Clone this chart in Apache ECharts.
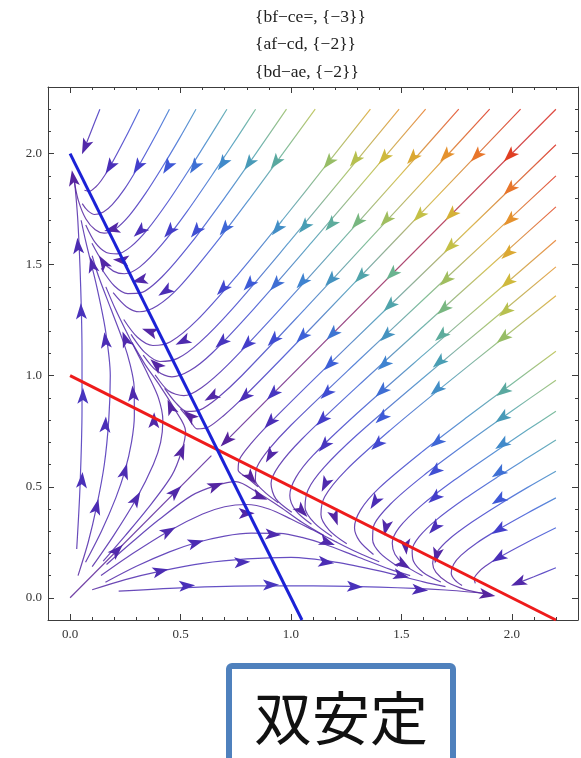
<!DOCTYPE html>
<html>
<head>
<meta charset="utf-8">
<script src="https://cdn.jsdelivr.net/npm/echarts/dist/echarts.min.js"></script>
<style>
  html, body { margin: 0; padding: 0; background: #fff; }
  #main { width: 581px; height: 758px; }
</style>
</head>
<body>
<div id="main"></div>
<script>
const titleLines = ['{bf\u2212ce=, {\u22123}}', '{af\u2212cd, {\u22122}}', '{bd\u2212ae, {\u22122}}'];
const stampText = '双安定';
const tickLabels = ['0.0', '0.5', '1.0', '1.5', '2.0'];
const axisRange = [-0.1, 2.3];

// nullclines
const nullclineRed = [[0, 1], [2.2, -0.1]];
const nullclineBlue = [[0, 2], [1.05, -0.1]];

// competition model behind the picture (from the nullcline intercepts),
// only used to colour by speed and to turn the arrowheads
const growth = [2, 2];
const compete = [[1, 2], [2, 1]];

// streamlines entering from the top edge
const topStreams = [
  [[0.135,2.2],[0.095,2.1],[0.06,2.01]],
  [[0.315,2.2],[0.25,2.07],[0.18,1.94],[0.142,1.88],[0.116,1.85],[0.086,1.83],[0.065,1.835]],
  [[0.45,2.2],[0.381,2.07],[0.308,1.94],[0.246,1.84],[0.191,1.77],[0.151,1.737],[0.111,1.726],[0.081,1.742],[0.055,1.775]],
  [[0.57,2.2],[0.496,2.07],[0.418,1.94],[0.341,1.82],[0.267,1.72],[0.204,1.66],[0.154,1.642],[0.114,1.657],[0.071,1.707],[0.038,1.787],[0.018,1.88]],
  [[0.71,2.2],[0.629,2.07],[0.547,1.94],[0.448,1.79],[0.352,1.66],[0.274,1.58],[0.214,1.549],[0.164,1.555],[0.114,1.599],[0.071,1.679]],
  [[0.84,2.2],[0.755,2.07],[0.668,1.94],[0.53,1.74],[0.415,1.59],[0.316,1.49],[0.246,1.459],[0.196,1.471],[0.146,1.516],[0.099,1.596]],
  [[0.98,2.2],[0.841,2.0],[0.699,1.8],[0.55,1.6],[0.421,1.45],[0.321,1.374],[0.261,1.37],[0.201,1.404],[0.141,1.484]],
  [[1.11,2.2],[0.963,2.0],[0.815,1.8],[0.662,1.6],[0.495,1.4],[0.395,1.315],[0.315,1.288],[0.255,1.311],[0.195,1.374]],
  [[1.36,2.2],[1.161,1.95],[0.961,1.7],[0.755,1.45],[0.575,1.25],[0.455,1.153],[0.375,1.136],[0.305,1.173],[0.243,1.253]],
  [[1.49,2.2],[1.241,1.9],[0.991,1.6],[0.734,1.3],[0.587,1.15],[0.487,1.078],[0.407,1.064],[0.337,1.106],[0.276,1.186]],
  [[1.61,2.2],[1.352,1.9],[1.094,1.6],[0.831,1.3],[0.641,1.1],[0.541,1.022],[0.461,0.995],[0.391,1.023],[0.331,1.093]],
  [[1.76,2.2],[1.492,1.9],[1.223,1.6],[0.951,1.3],[0.715,1.05],[0.595,0.946],[0.515,0.91],[0.445,0.932],[0.385,1.004]],
  [[1.9,2.2],[1.622,1.9],[1.343,1.6],[1.063,1.3],[0.777,1.0],[0.668,0.9],[0.588,0.846],[0.528,0.839],[0.478,0.879],[0.428,0.943]],
  [[2.04,2.2],[1.655,1.8],[1.27,1.4],[0.98,1.1],[0.782,0.9],[0.695,0.82],[0.625,0.768],[0.575,0.761],[0.54,0.803],[0.5,0.851]]
];

// streamlines entering from the right edge
const rightStreams = [
  [[2.2,0.135],[2.1,0.095],[2.01,0.06]],
  [[2.2,0.315],[2.07,0.25],[1.94,0.18],[1.88,0.142],[1.85,0.116],[1.83,0.086],[1.835,0.065]],
  [[2.2,0.45],[2.07,0.381],[1.94,0.308],[1.84,0.246],[1.77,0.191],[1.737,0.151],[1.726,0.111],[1.742,0.081],[1.775,0.055]],
  [[2.2,0.57],[2.07,0.496],[1.94,0.418],[1.82,0.341],[1.72,0.267],[1.66,0.204],[1.642,0.154],[1.657,0.114],[1.707,0.071],[1.787,0.038],[1.88,0.018]],
  [[2.2,0.71],[2.07,0.629],[1.94,0.547],[1.79,0.448],[1.66,0.352],[1.58,0.274],[1.549,0.214],[1.555,0.164],[1.599,0.114],[1.679,0.071]],
  [[2.2,0.84],[2.07,0.755],[1.94,0.668],[1.74,0.53],[1.59,0.415],[1.49,0.316],[1.459,0.246],[1.471,0.196],[1.516,0.146],[1.596,0.099]],
  [[2.2,0.98],[2.0,0.841],[1.8,0.699],[1.6,0.55],[1.45,0.421],[1.374,0.321],[1.37,0.261],[1.404,0.201],[1.484,0.141]],
  [[2.2,1.11],[2.0,0.963],[1.8,0.815],[1.6,0.662],[1.4,0.495],[1.315,0.395],[1.288,0.315],[1.311,0.255],[1.374,0.195]],
  [[2.2,1.36],[1.95,1.161],[1.7,0.961],[1.45,0.755],[1.25,0.575],[1.153,0.455],[1.136,0.375],[1.173,0.305],[1.253,0.243]],
  [[2.2,1.49],[1.9,1.241],[1.6,0.991],[1.3,0.734],[1.15,0.587],[1.078,0.487],[1.064,0.407],[1.106,0.337],[1.186,0.276]],
  [[2.2,1.61],[1.9,1.352],[1.6,1.094],[1.3,0.831],[1.1,0.641],[1.022,0.541],[0.995,0.461],[1.023,0.391],[1.093,0.331]],
  [[2.2,1.76],[1.9,1.492],[1.6,1.223],[1.3,0.951],[1.05,0.715],[0.946,0.595],[0.91,0.515],[0.932,0.445],[1.004,0.385]],
  [[2.2,1.9],[1.9,1.622],[1.6,1.343],[1.3,1.063],[1.0,0.777],[0.9,0.668],[0.846,0.588],[0.839,0.528],[0.879,0.478],[0.943,0.428]],
  [[2.2,2.04],[1.8,1.655],[1.4,1.27],[1.1,0.98],[0.9,0.782],[0.82,0.695],[0.768,0.625],[0.761,0.575],[0.803,0.54],[0.851,0.5]]
];

// streamlines leaving the origin and bending up towards (0, 2)
const originStreamsUp = [
  [[0.03,0.22],[0.045,0.5],[0.054,0.85],[0.054,1.1],[0.048,1.4],[0.035,1.7],[0.02,1.88]],
  [[0.036,0.1],[0.082,0.25],[0.12,0.41],[0.155,0.6],[0.175,0.8],[0.182,1.0],[0.161,1.2],[0.121,1.4],[0.072,1.6],[0.05,1.7]],
  [[0.07,0.16],[0.142,0.3],[0.207,0.45],[0.248,0.57],[0.278,0.7],[0.291,0.82],[0.29,0.95],[0.272,1.05],[0.242,1.15],[0.185,1.3],[0.128,1.45],[0.1,1.54]],
  [[0.1,0.14],[0.197,0.28],[0.3,0.446],[0.377,0.6],[0.41,0.7],[0.42,0.8],[0.4,0.9],[0.355,1.0],[0.305,1.1],[0.254,1.2],[0.205,1.3],[0.162,1.4]],
  [[0.15,0.165],[0.25,0.28],[0.35,0.4],[0.46,0.55],[0.505,0.66],[0.523,0.75],[0.473,0.85],[0.41,0.95],[0.34,1.05],[0.28,1.15]]
];

// streamlines leaving the origin and bending right towards (2, 0)
const originStreamsRight = [
  [[0.22,0.03],[0.5,0.045],[0.85,0.054],[1.1,0.054],[1.4,0.048],[1.7,0.035],[1.88,0.02]],
  [[0.1,0.036],[0.25,0.082],[0.41,0.12],[0.6,0.155],[0.8,0.175],[1.0,0.182],[1.2,0.161],[1.4,0.121],[1.6,0.072],[1.7,0.05]],
  [[0.16,0.07],[0.3,0.142],[0.45,0.207],[0.57,0.248],[0.7,0.278],[0.82,0.291],[0.95,0.29],[1.05,0.272],[1.15,0.242],[1.3,0.185],[1.45,0.128],[1.54,0.1]],
  [[0.14,0.1],[0.28,0.197],[0.446,0.3],[0.6,0.377],[0.7,0.41],[0.8,0.42],[0.9,0.4],[1.0,0.355],[1.1,0.305],[1.2,0.254],[1.3,0.205],[1.4,0.162]],
  [[0.165,0.15],[0.28,0.25],[0.4,0.35],[0.55,0.46],[0.66,0.505],[0.75,0.523],[0.85,0.473],[0.95,0.41],[1.05,0.34],[1.15,0.28]]
];

// the diagonal into the saddle
const diagonalStreams = [
  [[0,0],[0.64,0.64]],
  [[2.2,2.2],[0.69,0.69]]
];

// arrowhead positions
const arrowsUpper = [
  [0.068,2.03],[0.18,1.94],[0.306,1.94],[0.441,1.94],[0.563,1.94],[0.69,1.955],[0.81,1.955],[0.93,1.96],[1.17,1.96],[1.29,1.97],[1.42,1.98],[1.55,1.98],[1.70,1.99],[1.84,1.99],
  [0.19,1.66],[0.315,1.65],[0.45,1.65],[0.57,1.65],[0.70,1.66],[0.937,1.66],[1.06,1.67],[1.18,1.68],[1.30,1.69],[1.43,1.70],[1.58,1.72],
  [0.23,1.52],[0.315,1.43],[0.43,1.38],[0.69,1.39],[0.81,1.41],[0.93,1.41],[1.05,1.42],[1.18,1.43],[1.315,1.446],
  [0.36,1.20],[0.51,1.155],[0.685,1.15],[0.80,1.14],[0.92,1.16],[1.05,1.175],
  [0.64,0.905],[0.79,0.905],
  [0.014,1.89],[0.036,1.585],[0.1,1.5],[0.15,1.51],[0.05,1.29],[0.058,0.91],[0.16,1.16],[0.25,1.165],[0.16,0.78],[0.285,0.92],[0.38,0.80],[0.455,0.86],[0.54,0.82],[0.39,1.05],
  [0.054,0.53],[0.12,0.41],[0.248,0.57],[0.30,0.446],[0.505,0.66]
];
const arrowsLower = [
  [2.03,0.068],[1.94,0.18],[1.94,0.306],[1.94,0.441],[1.94,0.563],[1.955,0.69],[1.955,0.81],[1.96,0.93],[1.96,1.17],[1.97,1.29],[1.98,1.42],[1.98,1.55],[1.99,1.70],[1.99,1.84],
  [1.66,0.19],[1.65,0.315],[1.65,0.45],[1.65,0.57],[1.66,0.70],[1.66,0.937],[1.67,1.06],[1.68,1.18],[1.69,1.30],[1.70,1.43],[1.72,1.58],
  [1.52,0.23],[1.43,0.315],[1.38,0.43],[1.39,0.69],[1.41,0.81],[1.41,0.93],[1.42,1.05],[1.43,1.18],[1.446,1.315],
  [1.20,0.36],[1.155,0.51],[1.15,0.685],[1.14,0.80],[1.16,0.92],[1.175,1.05],
  [0.905,0.64],[0.905,0.79],
  [1.89,0.014],[1.585,0.036],[1.5,0.1],[1.51,0.15],[1.29,0.05],[0.91,0.058],[1.16,0.16],[1.165,0.25],[0.78,0.16],[0.92,0.285],[0.80,0.38],[0.86,0.455],[0.82,0.54],[1.05,0.39],
  [0.53,0.054],[0.41,0.12],[0.57,0.248],[0.446,0.30],[0.66,0.505]
];
const arrowsDiagonal = [
  [1.99,1.99],[1.725,1.725],[1.457,1.457],[1.187,1.187],[0.917,0.917],[0.707,0.707],[0.478,0.478],[0.213,0.213]
];

// ---- colour by speed (rainbow, purple = slow, red = fast)
const speedStops = [
  [0, '#5a2196'], [0.6, '#4b2db5'], [1.3, '#4340cc'], [2.0, '#3d5cd8'], [3.0, '#3f86cf'],
  [4.0, '#4aa0b2'], [5.0, '#6db58a'], [6.0, '#a3bf5c'], [7.0, '#c9c043'], [8.0, '#d9ac33'],
  [9.2, '#e5922e'], [10.2, '#e8742b'], [11.2, '#e03c22'], [13, '#d92a1e']
];

function field(x, y) {
  return [
    x * (growth[0] - compete[0][0] * x - compete[0][1] * y),
    y * (growth[1] - compete[1][0] * x - compete[1][1] * y)
  ];
}

function hexRgb(h) {
  return [1, 3, 5].map(i => parseInt(h.substr(i, 2), 16));
}

function speedColor(x, y) {
  const [u, v] = field(x, y);
  const s = Math.hypot(u, v);
  if (s <= speedStops[0][0]) return speedStops[0][1];
  for (let i = 1; i < speedStops.length; i++) {
    if (s <= speedStops[i][0]) {
      const t = (s - speedStops[i - 1][0]) / (speedStops[i][0] - speedStops[i - 1][0]);
      const a = hexRgb(speedStops[i - 1][1]), b = hexRgb(speedStops[i][1]);
      const c = a.map((ch, k) => Math.round(ch + (b[k] - ch) * t));
      return 'rgb(' + c.join(',') + ')';
    }
  }
  return speedStops[speedStops.length - 1][1];
}

const isMajor = v => tickLabels.indexOf((Math.round(v * 10) / 10).toFixed(1)) !== -1;
const frameColor = '#3c3c3c';
const labelStyle = { fontFamily: 'Liberation Serif', fontSize: 13, color: '#333' };

function frameAxis(position, minor, labelled) {
  const horizontal = position === 'bottom' || position === 'top';
  return {
    type: 'value',
    position: position,
    min: axisRange[0],
    max: axisRange[1],
    interval: minor ? 0.1 : undefined,
    splitNumber: 5,
    axisLine: { show: minor, onZero: false, lineStyle: { color: frameColor, width: 1 } },
    axisTick: { show: true, inside: true, length: minor ? 3 : 6, lineStyle: { color: frameColor, width: 1 } },
    axisLabel: labelled ? Object.assign({
      show: true,
      margin: horizontal ? 8 : 6,
      formatter: v => isMajor(v) ? (Math.round(v * 10) / 10).toFixed(1) : ''
    }, labelStyle) : { show: false },
    splitLine: { show: false }
  };
}

const chart = echarts.init(document.getElementById('main'), null, { renderer: 'canvas' });

chart.setOption({
  animation: false,
  backgroundColor: '#fff',
  grid: { left: 48, right: 1, top: 87, bottom: 138, containLabel: false },
  xAxis: [
    frameAxis('bottom', true, true),
    frameAxis('bottom', false, false),
    frameAxis('top', true, false),
    frameAxis('top', false, false)
  ],
  yAxis: [
    frameAxis('left', true, true),
    frameAxis('left', false, false),
    frameAxis('right', true, false),
    frameAxis('right', false, false)
  ],
  graphic: titleLines.map((t, i) => ({
    type: 'text',
    style: {
      text: t, x: 255, y: 17 + i * 27.5,
      font: '17.5px "Liberation Serif"', fill: '#222',
      textAlign: 'left', textVerticalAlign: 'middle', align: 'left', verticalAlign: 'middle'
    }
  })).concat([
    {
      type: 'rect',
      shape: { x: 229, y: 666, width: 224, height: 110, r: 3 },
      style: { fill: '#fff', stroke: '#4f81bd', lineWidth: 6 }
    },
    {
      type: 'text',
      style: {
        text: stampText, x: 341, y: 718,
        font: '58px "Noto Sans CJK JP"', fill: '#111',
        textAlign: 'center', textVerticalAlign: 'middle', align: 'center', verticalAlign: 'middle'
      }
    }
  ])
});

const toPx = p => chart.convertToPixel({ gridIndex: 0 }, p);

function gradientFor(pts) {
  const px = pts.map(toPx);
  const a = px[0], b = px[px.length - 1];
  const dx = b[0] - a[0], dy = b[1] - a[1];
  const len2 = dx * dx + dy * dy || 1;
  const stops = pts.map((p, i) => ({
    offset: Math.min(1, Math.max(0, ((px[i][0] - a[0]) * dx + (px[i][1] - a[1]) * dy) / len2)),
    color: speedColor(p[0], p[1])
  }));
  stops.sort((s, t) => s.offset - t.offset);
  return { type: 'linear', x: a[0], y: a[1], x2: b[0], y2: b[1], colorStops: stops, global: true };
}

const allStreams = topStreams.concat(rightStreams, originStreamsUp, originStreamsRight, diagonalStreams);

const streamSeries = allStreams.map(pts => ({
  type: 'line',
  data: pts,
  smooth: 0.3,
  symbol: 'none',
  silent: true,
  clip: true,
  z: 2,
  lineStyle: { width: 1.2, color: gradientFor(pts), opacity: 0.85 }
}));

const arrowPath = 'path://M0,0L5,15L0,11.5L-5,15Z';
const arrowSeries = {
  type: 'scatter',
  symbol: arrowPath,
  symbolSize: [11, 16],
  silent: true,
  z: 3,
  data: arrowsUpper.concat(arrowsLower, arrowsDiagonal).map(p => {
    const [u, v] = field(p[0], p[1]);
    return {
      value: p,
      symbolRotate: Math.atan2(v, u) * 180 / Math.PI - 90,
      itemStyle: { color: speedColor(p[0], p[1]), opacity: 1 }
    };
  })
};

const nullSeries = [
  { data: nullclineRed, color: '#ee1b1b' },
  { data: nullclineBlue, color: '#1b22d6' }
].map(n => ({
  type: 'line',
  data: n.data,
  symbol: 'none',
  silent: true,
  clip: true,
  z: 4,
  lineStyle: { width: 3, color: n.color }
}));

chart.setOption({ series: streamSeries.concat([arrowSeries], nullSeries) });
</script>
</body>
</html>
